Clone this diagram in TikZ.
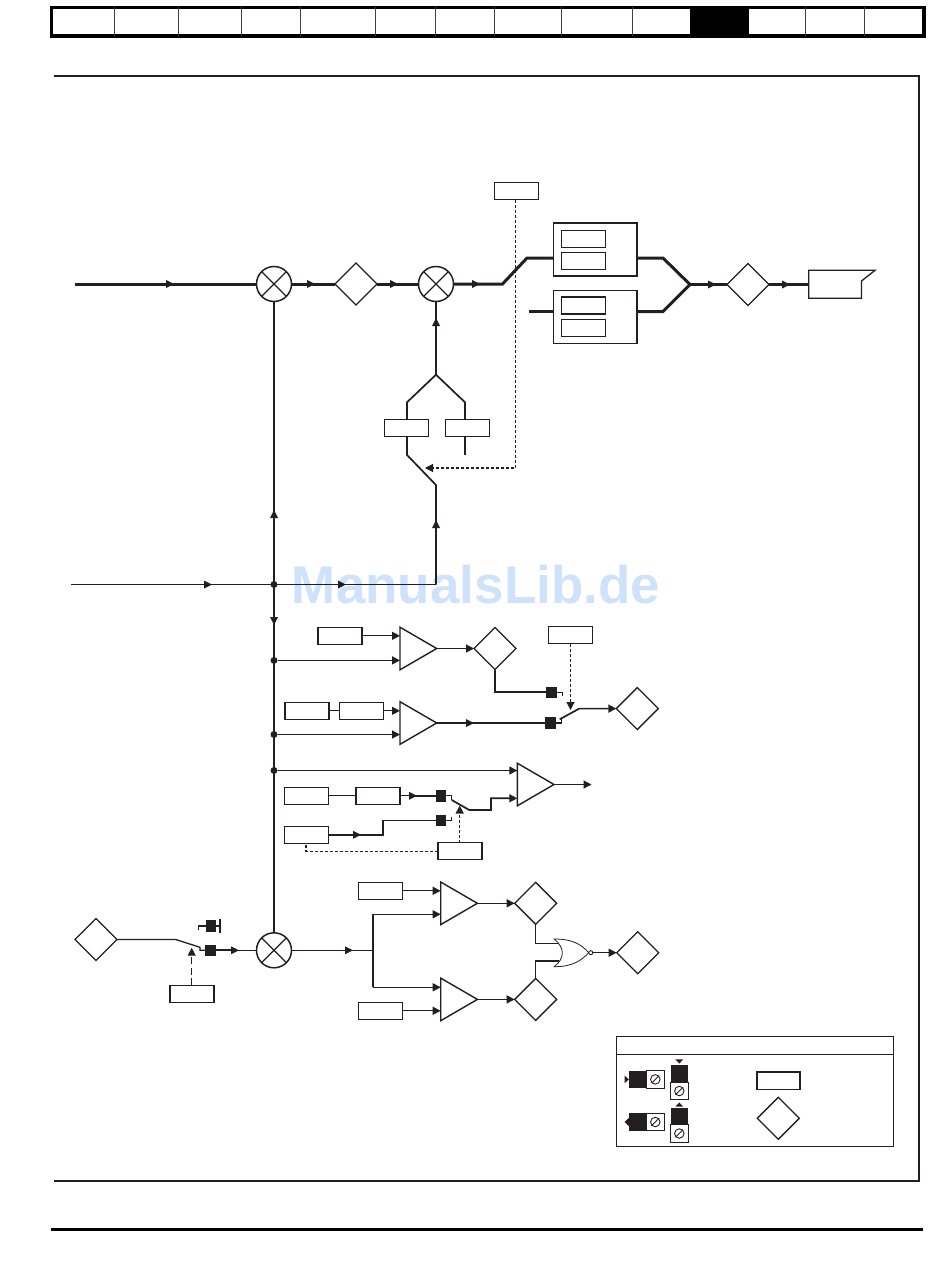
\documentclass[tikz,border=0pt]{standalone}
\usepackage{fontspec}
\newfontfamily\wmfont{Liberation Sans}
\usetikzlibrary{shapes.geometric,arrows.meta,calc}
\definecolor{ink}{HTML}{231F20}
\definecolor{wm}{HTML}{CFE2FB}
\tikzset{
  tri/.tip={Triangle[length=8pt,width=8pt]},
  wire/.style={draw=ink,line width=1.3pt},
  midw/.style={draw=ink,line width=1.7pt},
  bus/.style={draw=ink,line width=3pt,line join=miter},
  flow/.style={wire,-{tri}},
  ctl/.style={draw=ink,line width=1.1pt,dash pattern=on 3pt off 2pt},
  ctlarrow/.style={ctl,-{tri}},
  bx/.style={draw=ink,fill=white,line width=1.3pt,rectangle,minimum width=44pt,minimum height=17pt,inner sep=0pt,outer sep=0pt},
  group/.style={draw=ink,fill=white,line width=1.5pt,rectangle,minimum width=83.5pt,minimum height=53pt,inner sep=0pt,outer sep=0pt},
  dia/.style={draw=ink,fill=white,line width=1.3pt,diamond,aspect=1,minimum size=42pt,inner sep=0pt,outer sep=0pt},
  sumj/.style={draw=ink,fill=white,line width=1.5pt,circle,minimum size=35pt,inner sep=0pt,outer sep=0pt},
  amp/.style={draw=ink,fill=white,line width=1.4pt,isosceles triangle,isosceles triangle stretches,minimum width=42.6pt,minimum height=36.7pt,inner sep=0pt,outer sep=0pt,anchor=lower side},
  sq/.style={fill=ink,rectangle,minimum width=10.5pt,minimum height=11.5pt,inner sep=0pt,outer sep=0pt},
  dot/.style={fill=ink,circle,minimum size=7pt,inner sep=0pt,outer sep=0pt},
  trim/.style={draw=ink,fill=white,line width=.9pt,circle,minimum size=9.5pt,inner sep=0pt},
  cell/.style={draw=ink,fill=white,line width=1pt,rectangle,inner sep=0pt,minimum size=17.4pt},
  blk/.style={fill=ink,rectangle,inner sep=0pt,minimum size=17.4pt},
}
\newcommand{\sumcross}[1]{\draw[ink,line width=1.3pt] (#1.45)--(#1.225) (#1.135)--(#1.315);}
\newcommand{\inltip}[3]{\fill[ink,shift={(#1,#2)},rotate=#3] (-4,-4)--(4,0)--(-4,4)--cycle;}
\newcommand{\trimslash}[1]{\draw[ink,line width=.9pt] (#1.225)--(#1.45);}
\begin{document}
\begin{tikzpicture}[x=1pt,y=-1pt]
\useasboundingbox (0,0) rectangle (950,1276);
% top tab bar
\fill[black] (690,6) rectangle (749,37);
\draw[black,line width=3.4pt] (51.5,7.5) rectangle (924,36);
\foreach \xx in {114,178,241,300,375,435,494,561,632,805,864}{\draw[black!75,line width=1pt] (\xx,7.5)--(\xx,36);}
% frame
\draw[ink,line width=2pt] (54,76)--(919,76)--(919,1181)--(54,1181);
\draw[black,line width=2.5pt] (51,1229.5)--(923,1229.5);
% watermark
\node[text=wm,font=\wmfont\bfseries\fontsize{53}{53}\selectfont,inner sep=0pt,anchor=base] (wmk) at (476,603) {ManualsLib.de};
% top signal path
\coordinate (in1) at (75,284);
\node[sumj] (s1) at (274,284) {}; \sumcross{s1}
\node[dia] (d1) at (356,284) {};
\node[sumj] (s2) at (436,284) {}; \sumcross{s2}
\node[bx] (ctlA) at (516.5,191.3) {};
\node[group] (g1) at (595.3,249.7) {};
\node[group] (g2) at (595.3,317) {};
\node[bx] (g1a) at (583.5,239) {};
\node[bx] (g1b) at (583.5,261) {};
\node[bx] (g2a) at (583.5,305.5) {};
\node[bx] (g2b) at (583.5,328) {};
\node[dia] (d2) at (748,284.5) {};
\coordinate (mrg) at (690,284.5);
\coordinate (free2) at (529,311.5);
\draw[bus] (in1)--(s1.west);
\draw[bus] (s1.east)--(d1.west);
\draw[bus] (d1.east)--(s2.west);
\draw[bus] (s2.east)--(502.5,284)--(527,258)--(g1.west|-0,258);
\draw[bus] (free2)--(g2.west|-free2);
\draw[bus] (g1.east|-0,258)--(663,258)--(mrg);
\draw[bus] (g2.east|-free2)--(663,311.5)--(mrg);
\draw[bus] (mrg)--(d2.west);
\draw[ink,fill=white,line width=1.3pt] (808.7,270.3)--(875,270.3)--(861.5,281)--(861.5,298.3)--(808.7,298.3)--cycle;
\coordinate (outp) at (808.7,284.5);
\draw[bus] (d2.east)--(outp);
\inltip{170}{284}{0}\inltip{311}{284}{0}\inltip{394}{284}{0}\inltip{476}{284}{0}\inltip{712}{284.5}{0}\inltip{786}{284.5}{0}
% select
\node[bx] (bL) at (406.5,428.3) {};
\node[bx] (bR) at (467.3,428.3) {};
\coordinate (ap) at (436,374.7);
\coordinate (swb) at (436,485);
\coordinate (tap) at (436,584.5);
\draw[midw] (s2.south)--(ap)--(407,402.3)--(bL.north-|407,0);
\draw[midw] (ap)--(465,402.3)--(bR.north-|465,0);
\draw[midw] (bR.south-|465,0)--(465,454.5);
\draw[midw] (bL.south-|407,0)--(407,455)--(swb)--(tap);
\inltip{436}{322}{90}\inltip{436}{524}{90}
\coordinate (dashc) at (515.5,468);
\draw[ctlarrow] (ctlA.south-|dashc)--(dashc)--(425,468);
% main bus
\coordinate (in2) at (71,584.5);
\node[dot] (j0) at (274,584.5) {};
\node[dot] (j1) at (274,660.4) {};
\node[dot] (j2) at (274,734.5) {};
\node[dot] (j3) at (274,770.5) {};
\node[sumj] (s3) at (274,950.3) {}; \sumcross{s3}
\draw[wire] (in2)--(tap);
\draw[midw] (s1.south)--(s3.north);
\inltip{208}{584.5}{0}\inltip{342}{584.5}{0}\inltip{274}{514}{90}\inltip{274}{621}{-90}
% comparator 1
\node[bx] (b1) at (340,635.8) {};
\node[amp] (a1) at (400,648.5) {};
\node[dia] (d3) at (495,648.5) {};
\node[sq] (q1) at (551.3,692.3) {};
\draw[flow] (b1.east)--(b1.east-|a1.lower side);
\draw[flow] (j1)--(j1-|a1.lower side);
\draw[flow] (a1.apex)--(d3.west);
\draw[midw] (d3.south)--(d3.south|-q1.west)--(q1.west);
\draw[wire] (q1.east)--(562.7,692.3)--(562.7,696);
% comparator 2
\node[bx] (b2) at (307,710.8) {};
\node[bx] (b3) at (361.5,710.8) {};
\node[amp] (a2) at (400,723) {};
\node[sq] (q2) at (550.5,723) {};
\node[bx] (ctlB) at (570.8,635.3) {};
\node[dia] (d4) at (637.3,708.6) {};
\draw[wire] (b2.east)--(b3.west);
\draw[flow] (b3.east)--(b3.east-|a2.lower side);
\draw[flow] (j2)--(j2-|a2.lower side);
\draw[wire] (a2.apex)--(q2.west);
\draw[midw] (a2.apex)--(470,723);
\inltip{470}{723}{0}
\draw[wire] (q2.east)--(561.7,723)--(561.7,719.3);
\draw[midw,-{tri}] (559.7,719.3)--(579.3,708.6)--(d4.west);
\draw[ctlarrow] (ctlB.south-|570.5,0)--(570.5,710);
% comparator 3
\node[amp] (a3) at (517.3,784.5) {};
\node[bx] (b4) at (306.5,795.8) {};
\node[bx] (b5) at (378,795.8) {};
\node[bx] (b6) at (306.5,834.8) {};
\node[sq] (q3) at (441,795.8) {};
\node[sq] (q4) at (441,820.5) {};
\node[bx] (ctlC) at (460,851.3) {};
\coordinate (o3) at (591.5,784.5);
\draw[flow] (j3)--(j3-|a3.lower side);
\draw[flow] (a3.apex)--(o3);
\draw[wire] (b4.east)--(b5.west);
\draw[wire] (b5.east)--(413,795.8);
\draw[midw] (413,795.8)--(q3.west);
\inltip{413}{795.8}{0}
\draw[wire] (q3.east)--(451.3,795.8)--(451.3,800);
\draw[midw] (451.7,800)--(469.3,810)--(491,810)--(491,798.3)--(510,798.3);
\draw[flow] (510,798.3)--(510,798.3-|a3.lower side);
\draw[midw] (b6.east)--(383.3,834.8)--(383.3,820.5)--(q4.west);
\inltip{357}{834.8}{0}
\draw[wire] (q4.east)--(451.3,820.5)--(451.3,817.3);
\draw[ctlarrow] (459.7,842.8)--(459.7,805.5);
\draw[ctl] (ctlC.west)--(306,851.3)--(306,843.3);
% lower left selector
\node[dia] (d5) at (96,939.5) {};
\node[sq] (q5) at (210.5,950.3) {};
\node[sq] (q6) at (211,926) {};
\node[bx] (b7) at (192,993.8) {};
\draw[wire] (d5.east)--(175.7,939.5)--(200,947.3)--(200,950.3)--(q5.west);
\draw[wire] (q6.west)--(198.7,926)--(198.7,930);
\draw[wire] (q6.east)--(220,926);
\draw[wire] (220,919)--(220,932.7);
\draw[midw] (q5.east)--(235,950.3);
\inltip{235}{950.3}{0}
\draw[wire] (235,950.3)--(s3.west);
\draw[ink,line width=1.1pt,dash pattern=on 7pt off 3.5pt,-{tri}] (b7.north-|191.7,0)--(191.7,947.7);
% lower right comparators
\coordinate (fork) at (373.3,950.3);
\node[bx] (b8) at (380.5,890.8) {};
\node[bx] (b9) at (380.5,1010.8) {};
\node[amp] (a4) at (440.7,903.3) {};
\node[amp] (a5) at (440.7,999.4) {};
\node[dia] (d6) at (535.7,903.3) {};
\node[dia] (d7) at (535.7,999.4) {};
\node[dia] (d8) at (637.7,952.7) {};
\coordinate (top4) at (373.3,914.3);
\coordinate (bot5) at (373.3,987.3);
\draw[wire] (s3.east)--(fork);
\inltip{349}{950.3}{0}
\draw[midw] (top4)--(bot5);
\draw[flow] (b8.east)--(b8.east-|a4.lower side);
\draw[flow] (b9.east)--(b9.east-|a5.lower side);
\draw[flow] (top4)--(top4-|a4.lower side);
\draw[flow] (bot5)--(bot5-|a5.lower side);
\draw[flow] (a4.apex)--(d6.west);
\draw[flow] (a5.apex)--(d7.west);
\draw[wire] (d6.south)--(535.7,943.3)--(559,943.3);
\draw[wire] (d7.north)--(535.7,961)--(559,961);
\draw[ink,fill=white,line width=.8pt] (554.3,939) .. controls (572,939) and (581,944) .. (588.7,952.7) .. controls (581,961) and (572,966.7) .. (554.3,966.7) .. controls (565,958) and (565,948) .. (554.3,939) -- cycle;
\node[draw=ink,fill=white,line width=.9pt,circle,minimum size=4pt,inner sep=0pt] (nb) at (590.8,952.7) {};
\draw[flow] (nb.east)--(d8.west);
% legend
\draw[ink,line width=1.1pt] (616.3,1036.3) rectangle (893.7,1146.3);
\draw[ink,line width=1.1pt] (616.3,1054.3)--(893.7,1054.3);
\node[cell] (c1) at (655.3,1079.4) {}; \node[blk] (k1) at (637.9,1079.4) {};
\node[trim] (t1) at (655.3,1079.4) {}; \trimslash{t1}
\fill[ink] (624.5,1075.5)--(628.8,1079.4)--(624.5,1083.3)--cycle;
\node[cell] (c2) at (655.3,1122) {}; \node[blk] (k2) at (637.9,1122) {};
\node[trim] (t2) at (655.3,1122) {}; \trimslash{t2}
\fill[ink] (628.8,1118)--(624.5,1122)--(628.8,1126)--cycle;
\node[blk] (k3) at (679.3,1073.7) {}; \node[cell] (c3) at (679.3,1090.8) {};
\node[trim] (t3) at (679.3,1091) {}; \trimslash{t3}
\fill[ink] (675.3,1059.3)--(683.3,1059.3)--(679.3,1063.5)--cycle;
\node[blk] (k4) at (679.3,1116.5) {}; \node[cell] (c4) at (679.3,1133.5) {};
\node[trim] (t4) at (679.3,1133.5) {}; \trimslash{t4}
\fill[ink] (675.3,1106.7)--(683.3,1106.7)--(679.3,1102.5)--cycle;
\node[bx,minimum width=43pt,minimum height=17.5pt,line width=1.5pt] (lb) at (778.3,1080.8) {};
\node[dia] (ld) at (778.3,1118.3) {};
\end{tikzpicture}
\end{document}
